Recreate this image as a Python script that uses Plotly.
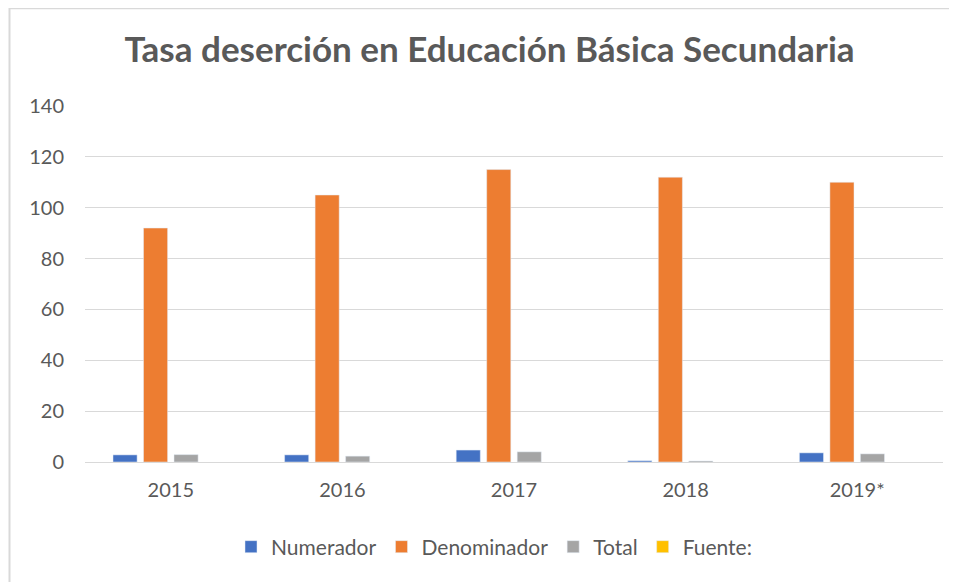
import plotly.graph_objects as go

categories = ["2015", "2016", "2017", "2018", "2019*"]
numerador = [2.8, 2.8, 4.7, 0.5, 3.6]
denominador = [92, 105, 115, 112, 110]
total = [2.9, 2.3, 4.0, 0.4, 3.2]
fuente = [None, None, None, None, None]

fig = go.Figure()
fig.add_bar(name="Numerador", x=categories, y=numerador, marker_color="#4472C4")
fig.add_bar(name="Denominador", x=categories, y=denominador, marker_color="#ED7D31")
fig.add_bar(name="Total", x=categories, y=total, marker_color="#A5A5A5")
fig.add_bar(name="Fuente:", x=categories, y=fuente, marker_color="#FFC000")

# page has an 8px body margin, so the figure is sized/offset accordingly
W, H = 949, 574
L, T, R, B = 77, 98, 14, 120
pw, ph = W - L - R, H - T - B

font_family = "Lato, Open Sans, sans-serif"
fig.update_layout(
    width=W, height=H,
    paper_bgcolor="white", plot_bgcolor="white",
    margin=dict(l=L, r=R, t=T, b=B),
    barmode="group", bargap=0.289, bargroupgap=0.21,
    title=dict(text="<b>Tasa deserción en Educación Básica Secundaria</b>",
               x=481.5 / W, xanchor="center", y=1 - 42 / H, yanchor="middle",
               font=dict(family=font_family, size=35, color="#595959")),
    font=dict(family=font_family, size=20, color="#595959"),
    legend=dict(orientation="h", x=(486 - L) / pw, xanchor="center",
                y=(454 - 539) / ph, yanchor="middle",
                font=dict(size=21, color="#595959"), itemwidth=30, tracegroupgap=0),
    xaxis=dict(showgrid=False, showline=True, linecolor="#d9d9d9", linewidth=1,
               ticks="", tickfont=dict(size=20, color="#595959"),
               ticklabelstandoff=10),
    yaxis=dict(range=[0, 140], dtick=20, showgrid=True, gridcolor="#d9d9d9",
               zeroline=False, ticks="", tickfont=dict(size=20, color="#595959"),
               ticklabelstandoff=20),
    shapes=[
        dict(type="line", xref="paper", yref="paper",
             x0=(1.5 - L) / pw, x1=(1.5 - L) / pw, y0=(454 - H) / ph, y1=(454 + 0.5) / ph,
             line=dict(color="#d9d9d9", width=2)),
        dict(type="line", xref="paper", yref="paper",
             x0=(1.5 - L) / pw, x1=(W - L) / pw, y0=(454 - 0.5) / ph, y1=(454 - 0.5) / ph,
             line=dict(color="#d9d9d9", width=1.5)),
    ],
)

fig.write_html("out.html")
